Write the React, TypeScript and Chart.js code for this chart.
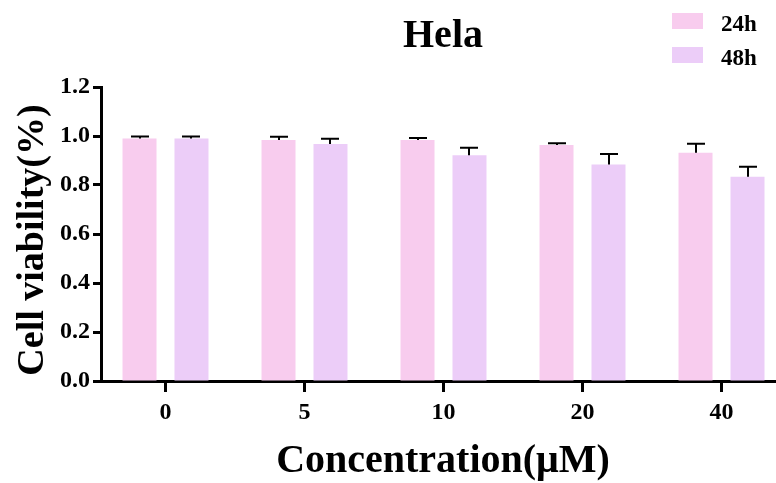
import React, { useEffect, useRef } from "react";
import { Chart, registerables } from "chart.js";

Chart.register(...registerables);

const categories = ["0", "5", "10", "20", "40"];
const series24 = [0.99, 0.984, 0.984, 0.963, 0.932];
const err24 = [0.008, 0.013, 0.008, 0.007, 0.036];
const series48 = [0.99, 0.967, 0.921, 0.884, 0.834];
const err48 = [0.008, 0.022, 0.031, 0.043, 0.04];
const yTicks = [0, 0.2, 0.4, 0.6, 0.8, 1.0, 1.2];
const seriesNames = ["24h", "48h"];
const chartTitle = "Hela";
const xTitle = "Concentration(μM)";
const yTitle = "Cell viability(%)";

const PINK = "#F8CCEE";
const PURPLE = "#ECCDF8";
const FONT = "'Liberation Serif', 'Times New Roman', serif";

export default function App() {
  const ref = useRef<HTMLCanvasElement | null>(null);

  useEffect(() => {
    const canvas = ref.current;
    if (!canvas) return;
    const errs = [err24, err48];

    const errorBars = {
      id: "errorBars",
      afterDatasetsDraw(chart: any) {
        const ctx = chart.ctx;
        const yScale = chart.scales.y;
        ctx.save();
        ctx.strokeStyle = "#000";
        ctx.lineWidth = 2;
        chart.data.datasets.forEach((ds: any, di: number) => {
          const meta = chart.getDatasetMeta(di);
          meta.data.forEach((bar: any, i: number) => {
            const v = ds.data[i].y;
            const top = yScale.getPixelForValue(v + errs[di][i]);
            const x = Math.round(bar.x);
            ctx.beginPath();
            ctx.moveTo(x, bar.y);
            ctx.lineTo(x, top);
            ctx.moveTo(x - 9, top);
            ctx.lineTo(x + 9, top);
            ctx.stroke();
          });
        });
        ctx.restore();
      },
    };

    const texts = {
      id: "texts",
      afterDraw(chart: any) {
        const ctx = chart.ctx;
        ctx.save();
        ctx.fillStyle = "#000";
        ctx.textAlign = "center";
        ctx.textBaseline = "alphabetic";
        ctx.font = `bold 40px ${FONT}`;
        ctx.fillText(chartTitle, 443, 47);
        ctx.font = `bold 40px ${FONT}`;
        ctx.fillText(xTitle, 443, 472);
        ctx.save();
        ctx.translate(43, 240);
        ctx.rotate(-Math.PI / 2);
        ctx.font = `bold 38px ${FONT}`;
        ctx.fillText(yTitle, 0, 0);
        ctx.restore();
        // legend
        const colors = [PINK, PURPLE];
        ctx.textAlign = "left";
        ctx.font = `bold 23px ${FONT}`;
        seriesNames.forEach((name, i) => {
          ctx.fillStyle = colors[i];
          ctx.fillRect(672, 13 + i * 34, 31, 16);
          ctx.fillStyle = "#000";
          ctx.fillText(name, 721, 31 + i * 34);
        });
        ctx.restore();
      },
    };

    const chart = new Chart(canvas, {
      type: "bar",
      data: {
        datasets: [
          {
            label: seriesNames[0],
            data: series24.map((v, i) => ({ x: i, y: v })),
            backgroundColor: PINK,
            borderWidth: 0,
          },
          {
            label: seriesNames[1],
            data: series48.map((v, i) => ({ x: i, y: v })),
            backgroundColor: PURPLE,
            borderWidth: 0,
          },
        ],
      },
      options: {
        responsive: false,
        animation: false,
        devicePixelRatio: 1,
        categoryPercentage: 0.748,
        barPercentage: 0.654,
        layout: { padding: { left: 0, right: 0, top: 87, bottom: 0 } },
        plugins: {
          legend: { display: false },
          title: { display: false },
          tooltip: { enabled: false },
        },
        scales: {
          x: {
            type: "linear",
            offset: false,
            min: -0.464,
            max: 4.392,
            afterBuildTicks: (scale: any) => {
              scale.ticks = categories.map((_, i) => ({ value: i }));
            },
            afterFit: (scale: any) => {
              scale.height = 102;
            },
            border: { display: true, color: "#000", width: 3 },
            grid: {
              offset: false,
              display: true,
              drawOnChartArea: false,
              drawTicks: true,
              tickLength: 11,
              tickWidth: 3,
              tickColor: "#000",
            },
            ticks: {
              autoSkip: false,
              maxRotation: 0,
              padding: 6,
              color: "#000",
              font: { family: FONT, size: 24, weight: "bold" },
              callback: (v: any) => categories[Math.round(Number(v))] ?? "",
            },
          },
          y: {
            min: 0,
            max: 1.2,
            afterBuildTicks: (scale: any) => {
              scale.ticks = yTicks.map((v) => ({ value: v }));
            },
            afterFit: (scale: any) => {
              scale.width = 101;
            },
            border: { display: true, color: "#000", width: 3 },
            grid: {
              display: true,
              drawOnChartArea: false,
              drawTicks: true,
              tickLength: 8,
              tickWidth: 3,
              tickColor: "#000",
            },
            ticks: {
              padding: 3,
              color: "#000",
              font: { family: FONT, size: 24, weight: "bold" },
              callback: (v: any) => Number(v).toFixed(1),
            },
          },
        },
      },
      plugins: [errorBars, texts],
    } as any);

    return () => chart.destroy();
  }, []);

  return (
    <div
      style={{
        position: "fixed",
        left: 0,
        top: 0,
        width: 776,
        height: 483,
        background: "#fff",
        overflow: "hidden",
      }}
    >
      <canvas ref={ref} width={776} height={483} style={{ display: "block" }} />
    </div>
  );
}
